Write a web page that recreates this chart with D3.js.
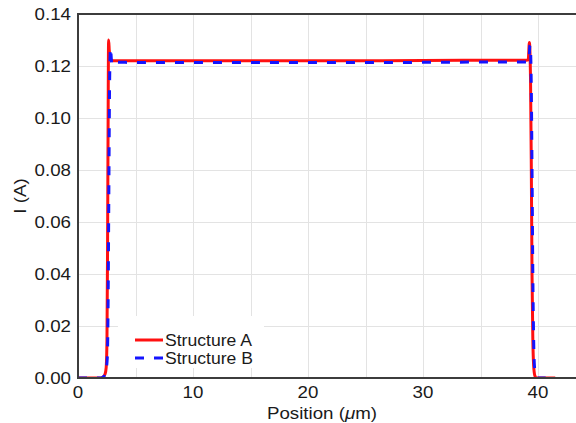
<!DOCTYPE html>
<html>
<head>
<meta charset="utf-8">
<script src="https://cdn.jsdelivr.net/npm/d3@7"></script>
<style>
  html, body { margin: 0; padding: 0; background: #fff; }
  svg { display: block; }
  text { font-family: "Liberation Sans", Arial, sans-serif; fill: #1a1a1a; }
</style>
</head>
<body>
<svg id="chart" width="576" height="423"></svg>
<script>
// Current profile along the device, two structures
const posA = [0, 1, 2, 2.2, 2.35, 2.45, 2.52, 2.57, 2.62, 2.66, 2.72, 2.8, 2.95, 3.2, 5, 10, 15, 20, 25, 30, 35, 38, 39.0, 39.15, 39.25, 39.35, 39.42, 39.48, 39.55, 39.62, 39.72, 39.85, 41.5];
const curA = [0, 0, 0, 0.0005, 0.0015, 0.004, 0.015, 0.05, 0.1, 0.13, 0.126, 0.123, 0.1221, 0.122, 0.122, 0.122, 0.122, 0.122, 0.122, 0.1221, 0.1222, 0.1222, 0.1222, 0.1224, 0.129, 0.115, 0.08, 0.04, 0.015, 0.005, 0.001, 0, 0];

const posB = [0, 1, 2, 2.2, 2.4, 2.55, 2.62, 2.68, 2.74, 2.8, 2.84, 2.88, 2.94, 3.0, 3.2, 5, 10, 15, 20, 25, 30, 35, 38, 39.0, 39.2, 39.3, 39.36, 39.42, 39.48, 39.55, 39.62, 39.7, 39.8, 39.95, 41.5];
const curB = [0, 0, 0, 0.0004, 0.002, 0.008, 0.03, 0.07, 0.11, 0.125, 0.127, 0.124, 0.1205, 0.1212, 0.1215, 0.1213, 0.1213, 0.1213, 0.1213, 0.1213, 0.1214, 0.1215, 0.1215, 0.1215, 0.1218, 0.128, 0.125, 0.11, 0.08, 0.04, 0.015, 0.004, 0.001, 0, 0];

const xTicks = [0, 10, 20, 30, 40];
const xGrid = [5, 10, 15, 20, 25, 30, 35, 40, 45];
const yTicks = [0, 0.02, 0.04, 0.06, 0.08, 0.10, 0.12, 0.14];
const yGrid = [0.02, 0.04, 0.06, 0.08, 0.10, 0.12];
const seriesNames = ["Structure A", "Structure B"];

const W = 576, H = 423;
const plotLeft = 78, plotTop = 14, plotBottom = 378;
const x = d3.scaleLinear().domain([0, 45]).range([plotLeft, plotLeft + 45 * 11.5]);
const y = d3.scaleLinear().domain([0, 0.14]).range([plotBottom, plotTop]);

const svg = d3.select("#chart");
const TX = 1.17; // horizontal stretch of label glyphs

svg.append("defs").append("clipPath").attr("id", "plot")
  .append("rect").attr("x", plotLeft).attr("y", plotTop).attr("width", W - plotLeft).attr("height", plotBottom - plotTop);

// grid
const grid = svg.append("g").attr("stroke", "#e3e3e3").attr("stroke-width", 1);
grid.selectAll("line.v").data(xGrid).join("line").attr("class", "v")
  .attr("x1", d => Math.round(x(d)) + 0.5).attr("x2", d => Math.round(x(d)) + 0.5)
  .attr("y1", plotTop).attr("y2", plotBottom);
grid.selectAll("line.h").data(yGrid).join("line").attr("class", "h")
  .attr("y1", d => Math.round(y(d)) + 0.5).attr("y2", d => Math.round(y(d)) + 0.5)
  .attr("x1", plotLeft).attr("x2", W);

// legend background
svg.append("rect").attr("x", 118).attr("y", 316).attr("width", 146).attr("height", 52).attr("fill", "#fff");

// curves
const line = d3.line().x(d => x(d[0])).y(d => y(d[1])).curve(d3.curveMonotoneX);
const plot = svg.append("g").attr("clip-path", "url(#plot)");
plot.append("path").datum(d3.zip(posA, curA)).attr("d", line)
  .attr("fill", "none").attr("stroke", "#ff1010").attr("stroke-width", 3).attr("stroke-linejoin", "round");
plot.append("path").datum(d3.zip(posB, curB)).attr("d", line)
  .attr("fill", "none").attr("stroke", "#1414ff").attr("stroke-width", 3).attr("stroke-dasharray", "9,10");

// spines
const spine = svg.append("g").attr("stroke", "#3c3c3c").attr("stroke-width", 2).attr("fill", "none");
spine.append("line").attr("x1", plotLeft).attr("x2", plotLeft).attr("y1", plotTop - 1).attr("y2", plotBottom + 1);
spine.append("line").attr("x1", plotLeft - 1).attr("x2", W).attr("y1", plotBottom).attr("y2", plotBottom);
spine.append("line").attr("x1", plotLeft - 1).attr("x2", W).attr("y1", plotTop).attr("y2", plotTop);

// tick labels
svg.append("g").selectAll("text").data(yTicks).join("text")
  .attr("transform", d => `translate(71,${y(d) + 6}) scale(${TX},1)`)
  .attr("text-anchor", "end").attr("font-size", 16)
  .text(d => d.toFixed(2));
svg.append("g").selectAll("text").data(xTicks).join("text")
  .attr("transform", d => `translate(${x(d)},398) scale(${TX},1)`)
  .attr("text-anchor", "middle").attr("font-size", 16)
  .text(d => d);

// axis titles
const xl = svg.append("text").attr("transform", `translate(322,419) scale(${TX},1)`)
  .attr("text-anchor", "middle").attr("font-size", 16);
xl.append("tspan").text("Position (");
xl.append("tspan").attr("font-style", "italic").text("\u03bc");
xl.append("tspan").text("m)");
svg.append("text").attr("transform", `translate(26,196) rotate(-90) scale(${TX},1)`)
  .attr("text-anchor", "middle").attr("font-size", 16).text("I (A)");

// legend
const leg = svg.append("g");
const legY = [340, 358];
const legStyle = [{c: "#ff1010", d: null}, {c: "#1414ff", d: "9,10"}];
seriesNames.forEach((name, i) => {
  leg.append("line").attr("x1", 135).attr("x2", 163).attr("y1", legY[i]).attr("y2", legY[i])
    .attr("stroke", legStyle[i].c).attr("stroke-width", 3).attr("stroke-dasharray", legStyle[i].d);
  leg.append("text").attr("transform", `translate(165,${legY[i] + 6}) scale(1.1,1)`)
    .attr("font-size", 16).text(name);
});
</script>
</body>
</html>
